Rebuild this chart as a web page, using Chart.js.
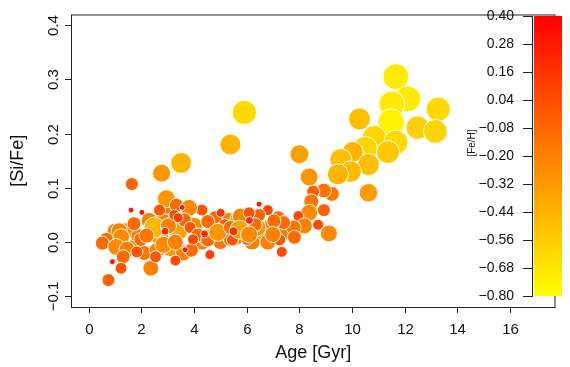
<!DOCTYPE html>
<html lang="en">
<head>
  <meta charset="UTF-8">
  <title>[Si/Fe] vs Age</title>
  <script src="https://cdn.jsdelivr.net/npm/chart.js"></script>
  <style>
    body { margin: 0; background: #fff; }
    #wrap { width: 570px; height: 367px; }
  </style>
</head>
<body>
<div id="wrap"><canvas id="grafico"></canvas></div>

<script>
  // stars: age [Gyr], [Si/Fe], [Fe/H]
  const age = [
    1.40, 1.90, 2.10, 2.70, 3.10, 3.40, 3.10, 2.80, 3.60, 4.00,
    4.30, 4.70, 5.00, 5.30, 5.60, 6.20, 6.60, 6.90, 7.50, 7.20,
    0.90, 1.00, 2.30, 3.90, 4.80, 3.00, 2.60, 1.60, 5.90, 6.80,
    11.66, 12.11, 11.51, 13.27, 11.48, 12.49, 13.16, 10.28, 10.84, 11.66,
    10.50, 11.36, 10.02, 10.62, 9.57, 9.94, 9.46, 8.00, 8.37, 10.62,
    9.23, 8.93, 8.52, 8.45, 8.93, 8.37, 7.96, 8.19, 9.12, 8.71,
    7.78, 7.81, 7.40, 7.33, 7.25, 7.03, 6.99, 6.80, 6.39, 6.47,
    6.47, 6.02, 5.72, 5.38, 5.16, 5.01, 4.60, 4.52, 4.45, 4.30,
    5.91, 5.38, 3.51, 2.77, 1.64, 2.95, 3.33, 3.81, 3.55, 1.61,
    2.02, 2.69, 5.76, 6.09, 1.72, 1.16, 1.23, 0.67, 0.52, 1.05,
    1.46, 1.31, 0.90, 1.23, 0.75, 1.98, 1.83, 2.50, 2.36, 3.03,
    2.84, 3.29, 2.54, 3.29, 3.63, 3.85, 4.15, 4.52, 4.52, 3.96,
    4.90, 5.46, 5.38, 6.02, 5.72, 6.32, 3.66, 3.25, 6.09, 2.20,
    3.40, 2.90, 4.40, 5.50, 6.10
  ];
  const siFe = [
    0.020, 0.010, -0.020, 0.010, -0.010, 0.020, 0.050, 0.040, -0.020, 0.030,
    0.000, 0.020, 0.000, 0.040, 0.010, 0.000, 0.020, 0.030, 0.020, 0.045,
    0.000, 0.020, 0.040, -0.015, 0.045, 0.065, -0.015, -0.010, 0.030, 0.000,
    0.305, 0.264, 0.255, 0.245, 0.221, 0.211, 0.204, 0.227, 0.193, 0.184,
    0.173, 0.166, 0.166, 0.143, 0.152, 0.130, 0.125, 0.162, 0.120, 0.091,
    0.089, 0.095, 0.093, 0.075, 0.059, 0.054, 0.048, 0.030, 0.016, 0.032,
    0.027, 0.009, 0.036, -0.018, 0.004, 0.039, 0.014, 0.059, 0.027, 0.050,
    0.070, 0.050, 0.041, 0.005, 0.032, 0.054, -0.023, 0.036, 0.005, 0.059,
    0.239, 0.180, 0.146, 0.127, 0.107, 0.080, 0.068, 0.063, 0.064, 0.059,
    0.055, 0.059, 0.048, 0.054, 0.034, 0.021, 0.009, 0.005, -0.002, -0.009,
    -0.013, -0.027, -0.036, -0.048, -0.070, 0.005, -0.018, 0.027, -0.048, 0.030,
    -0.005, 0.000, -0.027, -0.034, 0.041, 0.027, 0.013, 0.038, 0.004, 0.005,
    0.018, 0.004, 0.027, 0.005, 0.023, 0.032, -0.014, 0.050, 0.014, 0.012,
    0.045, 0.020, 0.015, 0.020, 0.040
  ];
  const feH = [
    -0.25, -0.20, -0.15, -0.30, -0.30, -0.35, -0.25, -0.20, -0.20, -0.25,
    -0.20, -0.25, -0.15, -0.20, -0.25, -0.20, -0.25, -0.15, -0.20, -0.10,
    -0.15, -0.20, -0.20, -0.10, -0.10, -0.15, -0.20, -0.15, -0.25, -0.20,
    -0.70, -0.70, -0.70, -0.62, -0.75, -0.58, -0.60, -0.50, -0.60, -0.62,
    -0.60, -0.55, -0.45, -0.50, -0.50, -0.48, -0.45, -0.35, -0.30, -0.33,
    -0.15, -0.15, -0.05, -0.15, -0.05, -0.25, 0.05, -0.20, -0.25, 0.05,
    -0.15, -0.10, -0.10, 0.05, 0.00, -0.10, -0.20, 0.05, -0.30, -0.05,
    0.30, -0.05, -0.35, -0.10, 0.00, 0.15, 0.10, -0.05, -0.10, 0.00,
    -0.62, -0.45, -0.45, -0.30, -0.05, -0.30, -0.10, -0.25, 0.30, 0.30,
    0.30, 0.00, -0.20, 0.00, -0.10, -0.20, -0.25, -0.10, -0.10, -0.25,
    -0.20, -0.10, 0.30, 0.00, -0.05, -0.10, 0.00, -0.45, -0.20, -0.20,
    -0.25, -0.20, 0.00, 0.05, -0.10, 0.00, -0.10, -0.10, -0.10, 0.05,
    -0.30, 0.00, -0.10, 0.00, -0.35, -0.10, 0.30, 0.05, -0.25, -0.15,
    0.10, 0.20, 0.20, 0.15, 0.20
  ];

  const xTicks = [0, 2, 4, 6, 8, 10, 12, 14, 16];
  const yTicks = [-0.1, 0.0, 0.1, 0.2, 0.3, 0.4];
  const yTickLabels = ['\u22120.1', '0.0', '0.1', '0.2', '0.3', '0.4'];
  const feTicks = [0.40, 0.28, 0.16, 0.04, -0.08, -0.20, -0.32, -0.44, -0.56, -0.68, -0.80];

  const feMin = -0.80, feMax = 0.40;

  function feColor(v) {
    let t = (feMax - v) / (feMax - feMin);
    t = Math.max(0, Math.min(1, t));
    return 'rgb(255,' + Math.round(255 * t) + ',0)';
  }
  // lower metallicity -> bigger circle
  function feRadius(v) {
    return Math.max(3, 6 - 10 * v);
  }

  const points = age.map((a, i) => ({ x: a, y: siFe[i] }));

  const font = '"Liberation Sans", Arial, sans-serif';

  const decor = {
    id: 'decor',
    afterDraw(chart) {
      const c = chart.ctx;
      const a = chart.chartArea;
      const xs = chart.scales.x, ys = chart.scales.y;
      c.save();
      c.strokeStyle = '#222';
      c.fillStyle = '#111';
      c.lineWidth = 1;

      // frame
      c.strokeRect(a.left + 0.5, a.top + 0.5, a.right - a.left - 1, a.bottom - a.top);

      // x axis
      c.font = '15px ' + font;
      c.textAlign = 'center';
      c.textBaseline = 'middle';
      xTicks.forEach(v => {
        const px = Math.round(xs.getPixelForValue(v)) + 0.5;
        c.beginPath();
        c.moveTo(px, a.bottom);
        c.lineTo(px, a.bottom + 6);
        c.stroke();
        c.fillText(String(v), px, a.bottom + 23);
      });
      c.font = '18px ' + font;
      c.fillText('Age [Gyr]', (a.left + a.right) / 2, a.bottom + 46);

      // y axis
      c.font = '15px ' + font;
      yTicks.forEach((v, i) => {
        const py = Math.round(ys.getPixelForValue(v)) + 0.5;
        c.beginPath();
        c.moveTo(a.left - 6, py);
        c.lineTo(a.left, py);
        c.stroke();
        c.save();
        c.translate(a.left - 17, py);
        c.rotate(-Math.PI / 2);
        c.fillText(yTickLabels[i], 0, 0);
        c.restore();
      });
      c.save();
      c.font = '18px ' + font;
      c.translate(18, (a.top + a.bottom) / 2);
      c.rotate(-Math.PI / 2);
      c.fillText('[Si/Fe]', 0, 0);
      c.restore();

      // colour bar
      const bx0 = 534, bx1 = 562, by0 = 16, by1 = 296;
      const g = c.createLinearGradient(0, by0, 0, by1);
      g.addColorStop(0, feColor(feMax));
      g.addColorStop(0.5, feColor((feMax + feMin) / 2));
      g.addColorStop(1, feColor(feMin));
      c.fillStyle = g;
      c.fillRect(bx0, by0, bx1 - bx0, by1 - by0);

      c.beginPath();
      c.moveTo(532.5, by0);
      c.lineTo(532.5, by1);
      c.stroke();
      c.fillStyle = '#111';
      c.font = '14px ' + font;
      c.textAlign = 'right';
      feTicks.forEach(v => {
        const py = Math.round(by0 + (feMax - v) / (feMax - feMin) * (by1 - by0)) + 0.5;
        c.beginPath();
        c.moveTo(523, py);
        c.lineTo(533, py);
        c.stroke();
        const s = v.toFixed(2).replace('-', '\u2212');
        c.fillText(s, 514, py);
      });
      c.save();
      c.font = '10px ' + font;
      c.textAlign = 'center';
      c.translate(472, 143);
      c.rotate(-Math.PI / 2);
      c.fillText('[Fe/H]', 0, 0);
      c.restore();

      c.restore();
    }
  };

  new Chart(document.getElementById('grafico'), {
    type: 'scatter',
    data: {
      datasets: [{
        data: points,
        backgroundColor: ctx => feColor(feH[ctx.dataIndex]),
        borderColor: '#ffffff',
        borderWidth: 1,
        pointRadius: ctx => feRadius(feH[ctx.dataIndex]),
        pointHoverRadius: ctx => feRadius(feH[ctx.dataIndex])
      }]
    },
    options: {
      responsive: true,
      maintainAspectRatio: false,
      animation: false,
      layout: { padding: { left: 71, top: 5, right: 7, bottom: 60 } },
      plugins: {
        legend: { display: false },
        tooltip: { enabled: false }
      },
      scales: {
        x: { type: 'linear', min: -0.67, max: 17.72, display: false },
        y: { type: 'linear', min: -0.1196, max: 0.4196, display: false }
      }
    },
    plugins: [decor]
  });
</script>
</body>
</html>
